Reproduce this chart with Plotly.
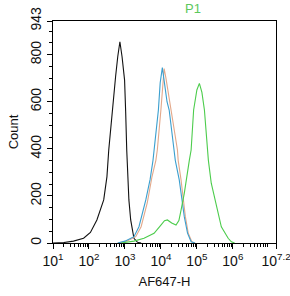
import plotly.graph_objects as go

# Histogram series: x positions as log10(intensity) exponents, y as counts
black_exp = [1.0, 1.3, 1.57, 1.85, 2.04, 2.22, 2.41, 2.5, 2.55, 2.6, 2.67, 2.74, 2.80, 2.86, 2.92, 2.99, 3.02, 3.05, 3.11, 3.16, 3.25, 3.35, 3.45]
black_cnt = [0, 2, 8, 20, 45, 98, 183, 282, 395, 480, 607, 706, 791, 855, 791, 692, 560, 395, 183, 98, 20, 3, 0]

blue_exp = [2.8, 3.0, 3.25, 3.39, 3.58, 3.70, 3.78, 3.81, 3.93, 3.98, 4.04, 4.09, 4.17, 4.23, 4.37, 4.40, 4.51, 4.65, 4.74, 4.84, 4.95]
blue_cnt = [0, 8, 27, 69, 183, 270, 351, 395, 565, 680, 745, 690, 600, 565, 395, 351, 268, 112, 42, 5, 0]

orange_exp = [2.8, 3.05, 3.3, 3.45, 3.62, 3.75, 3.86, 3.9, 4.0, 4.05, 4.09, 4.14, 4.25, 4.3, 4.46, 4.48, 4.56, 4.68, 4.76, 4.86, 4.95]
orange_cnt = [0, 8, 27, 69, 170, 280, 351, 395, 565, 690, 741, 700, 600, 540, 395, 351, 268, 112, 42, 5, 0]

green_exp = [2.9, 3.25, 3.53, 3.81, 4.0, 4.1, 4.18, 4.3, 4.42, 4.5, 4.56, 4.65, 4.79, 4.84, 4.91, 5.0, 5.07, 5.14, 5.21, 5.30, 5.32, 5.40, 5.54, 5.68, 5.87, 5.96, 6.05]
green_cnt = [0, 8, 20, 41, 76, 95, 98, 85, 76, 95, 140, 211, 351, 395, 565, 650, 678, 640, 565, 395, 351, 254, 154, 69, 20, 5, 0]

x_tick_exp = [1, 2, 3, 4, 5, 6, 7.2]
x_tick_text = ["10<sup>1</sup>", "10<sup>2</sup>", "10<sup>3</sup>", "10<sup>4</sup>",
               "10<sup>5</sup>", "10<sup>6</sup>", "10<sup>7.2</sup>"]
y_ticks = [0, 200, 400, 600, 800, 943]

series = [
    (black_exp, black_cnt, "#111111"),
    (orange_exp, orange_cnt, "#e3a88a"),
    (blue_exp, blue_cnt, "#3a9fcf"),
    (green_exp, green_cnt, "#4ccc4c"),
]

fig = go.Figure()
for ex, cnt, col in series:
    fig.add_trace(go.Scatter(x=[10 ** e for e in ex], y=cnt, mode="lines",
                             line=dict(color=col, width=1.1),
                             showlegend=False, hoverinfo="skip"))

minor_vals = [m * 10 ** d for d in range(1, 8) for m in range(2, 10) if m * 10 ** d < 10 ** 7.2]

fig.update_layout(
    width=290, height=296,
    margin=dict(l=53, r=14, t=21, b=53),
    paper_bgcolor="white", plot_bgcolor="white",
    font=dict(family="Liberation Sans, Arial, sans-serif", color="#111111"),
    xaxis=dict(type="log", range=[1, 7.2], showgrid=False, zeroline=False,
               automargin=False, ticklabeloverflow="allow",
               showline=True, linecolor="black", linewidth=1, mirror=True,
               ticks="outside", ticklen=5, tickcolor="black",
               tickvals=[10 ** e for e in x_tick_exp], ticktext=x_tick_text,
               tickfont=dict(size=14),
               minor=dict(tickvals=minor_vals, ticks="outside", ticklen=3, tickcolor="black"),
               title=dict(text="AF647-H", font=dict(size=13), standoff=9)),
    yaxis=dict(range=[0, 943], showgrid=False, zeroline=False,
               automargin=False, ticklabeloverflow="allow",
               showline=True, linecolor="black", linewidth=1, mirror=True,
               ticks="outside", ticklen=5, tickcolor="black",
               tickvals=y_ticks, tickangle=-90, tickfont=dict(size=14),
               minor=dict(dtick=50, ticks="outside", ticklen=3, tickcolor="black"),
               title=dict(text="Count", font=dict(size=13), standoff=6)),
)
fig.add_annotation(text="P1", xref="paper", yref="paper", x=(203 - 53) / 223, y=1.0,
                   yanchor="bottom", yshift=3, showarrow=False,
                   font=dict(size=13, color="#5cc85c"))

fig.write_html("out.html")
